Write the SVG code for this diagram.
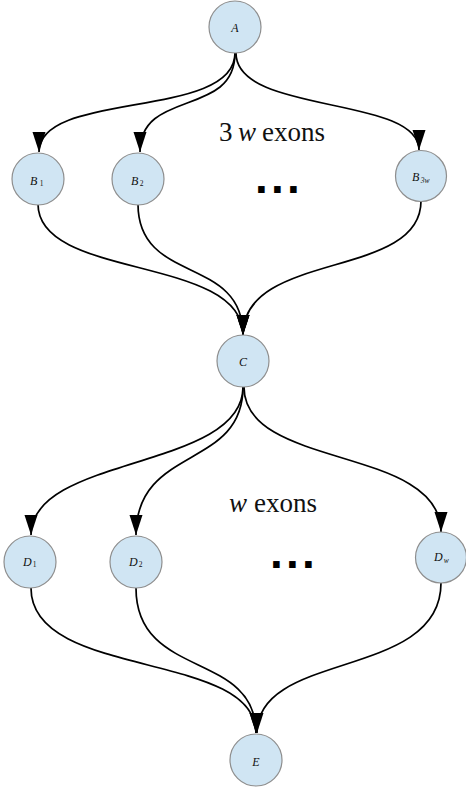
<svg xmlns="http://www.w3.org/2000/svg" width="466" height="788" viewBox="0 0 466 788">
<defs>
<style>
.node circle{fill:#d0e5f3;stroke:#8e8e8e;stroke-width:1.2}
.lbl{font-family:"Liberation Serif",serif;font-style:italic;font-size:12px;fill:#111}
.sub{font-size:7.5px;font-style:normal}
.subi{font-size:7.5px;font-style:italic}
.edge{fill:none;stroke:#000;stroke-width:1.7}
.big{font-family:"Liberation Serif",serif;font-size:27px;fill:#111}
.dots{font-family:"Liberation Sans",sans-serif;font-weight:bold;font-size:46px;letter-spacing:3.2px;fill:#000}
</style>
<marker id="arr" markerUnits="userSpaceOnUse" markerWidth="21" markerHeight="14" refX="20" refY="6.5" orient="auto">
<path d="M0,0 L20,6.5 L0,13 z" fill="#000"/>
</marker>
</defs>
<rect width="466" height="788" fill="#fff"/>
<g id="connectors">
<path class="edge" marker-end="url(#arr)" d="M235,53 C235,120 39,90 39,152"/>
<path class="edge" marker-end="url(#arr)" d="M235,53 C235,118 140,88 140,152"/>
<path class="edge" marker-end="url(#arr)" d="M236,53 C236,115 419,95 419,150"/>
<path class="edge" marker-end="url(#arr)" d="M38,204 C38,280 243,255 243,335"/>
<path class="edge" marker-end="url(#arr)" d="M138,204 C138,285 243,255 243,335"/>
<path class="edge" marker-end="url(#arr)" d="M421,201 C421,280 243,250 243,335"/>
<path class="edge" marker-end="url(#arr)" d="M243,387 C243,470 31,455 31,535"/>
<path class="edge" marker-end="url(#arr)" d="M243,387 C243,470 136,445 136,535"/>
<path class="edge" marker-end="url(#arr)" d="M244,387 C244,470 441,445 441,532"/>
<path class="edge" marker-end="url(#arr)" d="M31,588 C31,680 256,650 256,733"/>
<path class="edge" marker-end="url(#arr)" d="M136,588 C136,680 256,650 256,733"/>
<path class="edge" marker-end="url(#arr)" d="M441,583 C441,680 257,650 257,733"/>
</g>
<g id="node-A" class="node"><circle cx="235" cy="27" r="26"/><text class="lbl" x="235" y="32" text-anchor="middle">A</text></g>
<g id="node-B1" class="node"><circle cx="38" cy="179" r="26"/><text class="lbl" x="30" y="185">B<tspan class="sub" dx="2.5" dy="1">1</tspan></text></g>
<g id="node-B2" class="node"><circle cx="138" cy="179" r="26"/><text class="lbl" x="131" y="185">B<tspan class="sub" dx="1.5" dy="1">2</tspan></text></g>
<g id="node-B3w" class="node"><circle cx="421" cy="176" r="25.5"/><text class="lbl" x="412" y="181">B<tspan class="subi" dx="1.5" dy="1.5">3w</tspan></text></g>
<g id="node-C" class="node"><circle cx="243" cy="361" r="26"/><text class="lbl" x="243" y="366" text-anchor="middle">C</text></g>
<g id="node-D1" class="node"><circle cx="30" cy="562" r="26"/><text class="lbl" x="23" y="566">D<tspan class="sub" dx="1" dy="1">1</tspan></text></g>
<g id="node-D2" class="node"><circle cx="136" cy="562" r="26"/><text class="lbl" x="129" y="566">D<tspan class="sub" dx="1" dy="1">2</tspan></text></g>
<g id="node-Dw" class="node"><circle cx="441" cy="557.5" r="25.5"/><text class="lbl" x="434" y="561">D<tspan class="subi" dx="1" dy="2">w</tspan></text></g>
<g id="node-E" class="node"><circle cx="256" cy="760" r="26"/><text class="lbl" x="256" y="766" text-anchor="middle">E</text></g>
<g id="annotations">
<text class="big" x="219" y="141">3<tspan font-style="italic" x="238">w</tspan><tspan x="262">exons</tspan></text>
<text class="dots" x="255" y="193">...</text>
<text class="big" x="229" y="512"><tspan font-style="italic">w</tspan><tspan x="254">exons</tspan></text>
<text class="dots" x="270" y="568">...</text>
</g>
</svg>
